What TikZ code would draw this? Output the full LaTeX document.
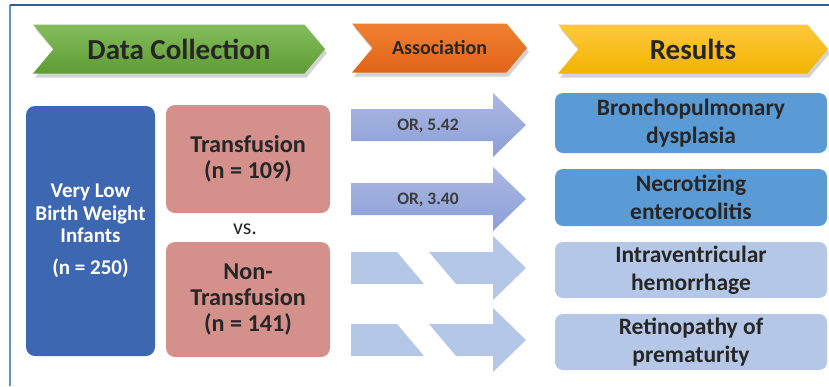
\documentclass[tikz,border=0pt]{standalone}
\usepackage{fontspec}
\setmainfont{Carlito}
\usetikzlibrary{shapes.symbols,shadows}
\definecolor{NicuFrame}{RGB}{45,95,145}
\definecolor{NicuFrameLight}{RGB}{95,145,195}
\definecolor{NicuGreenTop}{RGB}{132,188,92}
\definecolor{NicuGreenBot}{RGB}{94,156,52}
\definecolor{NicuOrangeTop}{RGB}{240,128,48}
\definecolor{NicuOrangeBot}{RGB}{224,100,24}
\definecolor{NicuYellowTop}{RGB}{255,200,62}
\definecolor{NicuYellowBot}{RGB}{240,180,0}
\definecolor{NicuNavy}{RGB}{61,103,177}
\definecolor{NicuPink}{RGB}{212,145,140}
\definecolor{NicuSky}{RGB}{91,155,213}
\definecolor{NicuPale}{RGB}{180,199,231}
\definecolor{NicuArrowTop}{RGB}{170,183,226}
\definecolor{NicuArrowBot}{RGB}{140,160,214}
\definecolor{NicuText}{RGB}{38,38,38}

\begin{document}
\begin{tikzpicture}[x=1pt,y=-1pt]
    \tikzset{stage/.style={shape=signal,signal from=west,signal to=east,signal pointer angle=100,minimum height=49pt,inner sep=0pt,font=\bfseries\fontsize{29}{32}\selectfont,text=NicuText,drop shadow={shadow xshift=2pt,shadow yshift=-4pt,opacity=0.35}},
      group/.style={rounded corners=9pt,inner sep=0pt,align=center,font=\bfseries\fontsize{24.2}{26}\selectfont,text=NicuText},
      outcome/.style={rounded corners=8pt,minimum width=272pt,inner sep=0pt,align=center,font=\bfseries\fontsize{23.5}{28}\selectfont,text=NicuText},
      oddsratio/.style={font=\bfseries\fontsize{17.5}{20}\selectfont,text=NicuText!90}}
    \useasboundingbox (0,0) rectangle (829,386);
    \draw[NicuFrameLight,line width=1.2pt] (10,386) -- (10,5);
    \draw[NicuFrame,line width=1.2pt] (10,5) -- (829,5);

    % header chevrons
    \node[stage,top color=NicuGreenTop,bottom color=NicuGreenBot,minimum width=292pt] (collect) at (179,49) {Data Collection};
    \node[stage,top color=NicuOrangeTop,bottom color=NicuOrangeBot,minimum width=175pt,font=\bfseries\fontsize{20}{22}\selectfont] (assoc) at (439.5,48) {Association};
    \node[stage,top color=NicuYellowTop,bottom color=NicuYellowBot,minimum width=270pt] (results) at (693,49) {Results};

    % cohort
    \node[group,fill=NicuNavy,text=white,minimum width=129pt,minimum height=250pt,font=\bfseries\fontsize{21}{22.5}\selectfont] (vlbw) at (90.5,231) {Very Low\\Birth Weight\\Infants\\[9pt](n = 250)};
    \node[group,fill=NicuPink,minimum width=164pt,minimum height=108pt] (trans) at (248,159) {Transfusion\\(n = 109)};
    \node[group,fill=NicuPink,minimum width=164pt,minimum height=115pt] (nontrans) at (248,299.5) {Non-\\Transfusion\\(n = 141)};
    \node[font=\fontsize{22}{24}\selectfont,text=NicuText] (vs) at (245,229) {vs.};

    % associations
    \foreach \c/\lbl/\nm in {125/{OR, 5.42}/bpd,199/{OR, 3.40}/nec}{
      \shade[top color=NicuArrowTop,bottom color=NicuArrowBot] (351,\c-16) -- (493,\c-16) -- (493,\c-32) -- (526,\c) -- (493,\c+32) -- (493,\c+16) -- (351,\c+16) -- cycle;
      \node[oddsratio] (or-\nm) at (428,\c+1) {\lbl};
    }
    \foreach \c in {268,340}{
      \fill[NicuPale] (351,\c-16) -- (397,\c-16) -- (424,\c+16) -- (351,\c+16) -- cycle;
      \fill[NicuPale] (429,\c-16) -- (493,\c-16) -- (493,\c-32) -- (526,\c) -- (493,\c+32) -- (493,\c+16) -- (456,\c+16) -- cycle;
    }

    % outcomes
    \node[outcome,fill=NicuSky,minimum height=60pt] (bpd) at (691,123) {Bronchopulmonary\\dysplasia};
    \node[outcome,fill=NicuSky,minimum height=57pt] (nec) at (691,197.5) {Necrotizing\\enterocolitis};
    \node[outcome,fill=NicuPale,minimum height=56pt] (ivh) at (691,270) {Intraventricular\\hemorrhage};
    \node[outcome,fill=NicuPale,minimum height=56pt] (rop) at (691,342) {Retinopathy of\\prematurity};
\end{tikzpicture}
\end{document}
